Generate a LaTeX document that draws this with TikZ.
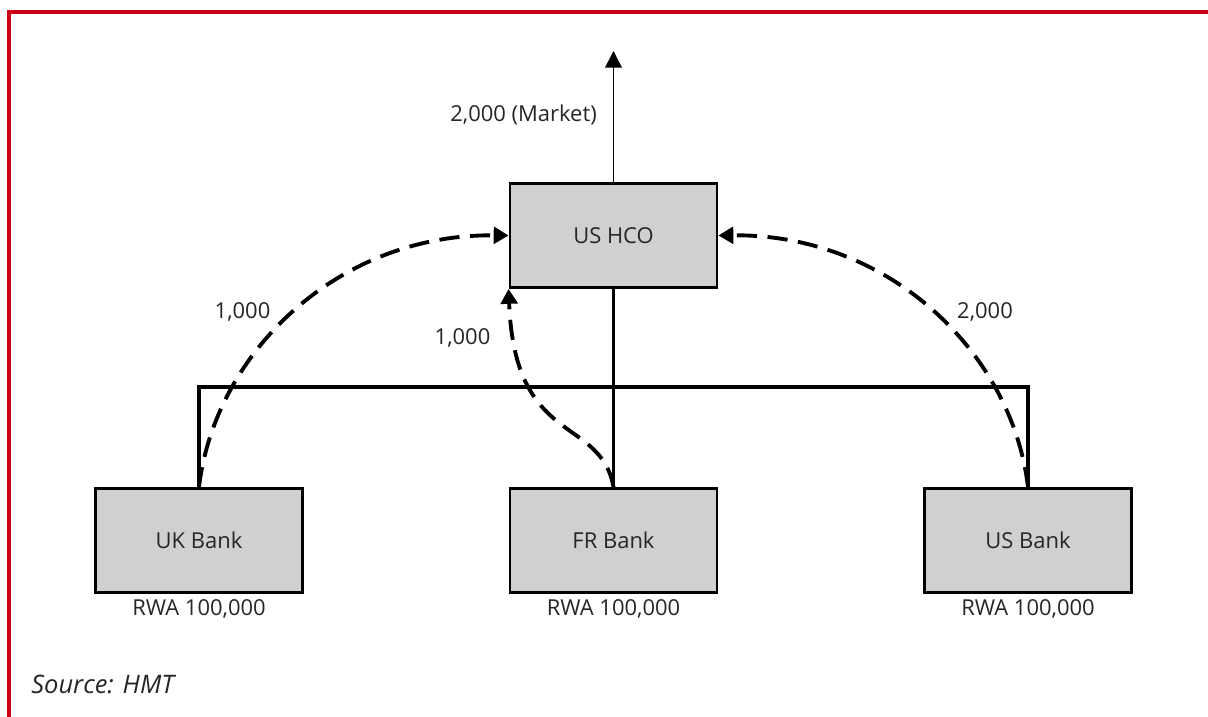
\documentclass[tikz,border=0pt]{standalone}
\usepackage{fontspec}
\setmainfont{Open Sans}
\usepackage{xcolor}
\usepackage{tikz}
\usetikzlibrary{arrows.meta}
\usetikzlibrary{positioning}
\definecolor{frame}{RGB}{204,0,20}
\definecolor{boxgrey}{RGB}{209,207,210}
\definecolor{ink}{RGB}{38,38,38}

\tikzset{
	entity/.style={draw=black,line width=1.6pt,fill=boxgrey,minimum width=4.14cm,minimum height=2.08cm,text=ink,font=\fontsize{12.5}{15}\selectfont},
	spine/.style={line width=2.1pt},
	flow/.style={line width=2.2pt,dash pattern=on 11.5pt off 6pt,-{Triangle[length=8.5pt,width=9.5pt]}},
	lbl/.style={text=ink,font=\fontsize{12.5}{15}\selectfont}
}

\begin{document}
\begin{tikzpicture}[x=0.02cm,y=0.02cm]
	\useasboundingbox (0,0) rectangle (1208,717);
	\draw [frame,line width=1.8pt] (9,0)--(9,705)--(1208,705);
	
	\node [entity] (hco) at (613.5,481.5) {US HCO};
	\node [entity] (uk) at (199,176.5) {UK Bank};
	\node [entity] (fr) at (613.5,176.5) {FR Bank};
	\node [entity] (us) at (1028,176.5) {US Bank};
	
	\node [lbl] (rwauk) at (199,108) {RWA 100,000};
	\node [lbl] (rwafr) at (613.5,108) {RWA 100,000};
	\node [lbl] (rwaus) at (1028,108) {RWA 100,000};
	
	% ownership lines
	\coordinate (bar) at (613.5,330);
	\draw [spine] (hco.south)--(fr.north);
	\draw [spine] (uk.north) |- (bar) -| (us.north);
	
	% funding to market
	\coordinate (market) at (613.5,666);
	\draw [line width=0.9pt,-{Triangle[length=9.5pt,width=9.5pt]}] (hco.north)--(market);
	\node [lbl,anchor=east] (mkt) at (603,602) {2,000 (Market)};
	
	% upstream flows
	\draw [flow] (uk.north) .. controls +(16,135) and +(-170,2) .. (hco.west);
	\draw [flow] (us.north) .. controls +(-16,135) and +(170,2) .. (hco.east);
	\draw [flow] (fr.north) .. controls +(-13,72) and +(6,-159) .. (hco.south west);
	
	\node [lbl] (amtuk) at (242.5,405) {1,000};
	\node [lbl] (amtfr) at (462.5,379) {1,000};
	\node [lbl] (amtus) at (985,405) {2,000};
	
	\node [text=ink,font=\fontsize{14.5}{17}\selectfont\itshape,anchor=west,inner sep=0pt] (src) at (31,33) {Source: HMT};
\end{tikzpicture}
\end{document}
